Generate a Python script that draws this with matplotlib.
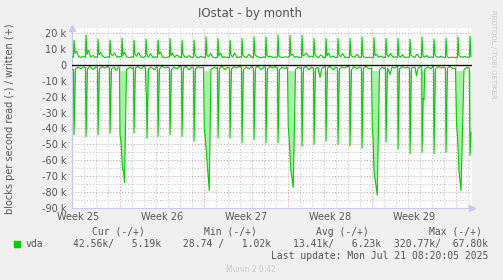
import matplotlib
matplotlib.use("Agg")
import matplotlib.pyplot as plt
import numpy as np

# ---------------- data (values in thousands of blocks/s) ----------------
# x in hours since the left edge of the graph
week_labels = ["Week 25", "Week 26", "Week 27", "Week 28", "Week 29"]
week_label_hours = [12, 180, 348, 516, 684]
week_start_hours = [95, 263, 431, 599, 767]
day_start_hours = [23 + 24 * i for i in range(34)]  # daily minor grid positions

y_ticks = [20, 10, 0, -10, -20, -30, -40, -50, -60, -70, -80, -90]
y_tick_labels = ["20 k", "10 k", "0", "-10 k", "-20 k", "-30 k", "-40 k",
                 "-50 k", "-60 k", "-70 k", "-80 k", "-90 k"]

# written (+)
write_hours = [0,
    3, 4, 6, 9, 13, 18, 23,
    27, 28, 30, 33, 37, 42, 47,
    51, 52, 54, 57, 61, 66, 71,
    75, 76, 78, 81, 85, 90, 95,
    99, 100, 102, 105, 109, 114, 119,
    123, 124, 126, 129, 133, 138, 143,
    147, 148, 150, 153, 157, 162, 167,
    171, 172, 174, 177, 181, 186, 191,
    195, 196, 198, 201, 205, 210, 215,
    219, 220, 222, 225, 229, 234, 239,
    243, 244, 246, 249, 253, 258, 263,
    267, 268, 270, 273, 277, 282, 287,
    291, 292, 294, 297, 301, 306, 311,
    315, 316, 318, 321, 325, 330, 335,
    339, 340, 342, 345, 349, 354, 359,
    363, 364, 366, 369, 373, 378, 383,
    387, 388, 390, 393, 397, 402, 407,
    411, 412, 414, 417, 421, 426, 431,
    435, 436, 438, 441, 445, 450, 455,
    459, 460, 462, 465, 469, 474, 479,
    483, 484, 486, 489, 493, 498, 503,
    507, 508, 510, 513, 517, 522, 527,
    531, 532, 534, 537, 541, 546, 551,
    555, 556, 558, 561, 565, 570, 575,
    579, 580, 582, 585, 589, 594, 599,
    603, 604, 606, 609, 613, 618, 623,
    627, 628, 630, 633, 637, 642, 647,
    651, 652, 654, 657, 661, 666, 671,
    675, 676, 678, 681, 685, 690, 695,
    699, 700, 702, 705, 709, 714, 719,
    723, 724, 726, 729, 733, 738, 743,
    747, 748, 750, 753, 757, 762, 767,
    771, 772, 774, 777, 781, 786, 791,
    795, 796, 798]
write_vals = [5.0,
    4.8, 15.5, 7.3, 8.4, 5.2, 4.6, 5.4,
    4.8, 18.5, 6.5, 9.0, 5.0, 5.8, 4.6,
    4.9, 16.0, 6.2, 7.8, 5.5, 4.5, 5.0,
    4.6, 15.5, 6.8, 5.6, 7.4, 4.8, 5.2,
    5.0, 16.5, 5.8, 8.0, 5.0, 4.5, 4.9,
    4.7, 15.5, 6.6, 5.3, 7.6, 5.0, 4.6,
    5.2, 16.0, 6.2, 4.8, 7.0, 4.5, 5.0,
    4.6, 15.5, 6.6, 8.0, 5.0, 4.4, 4.8,
    5.0, 16.5, 5.5, 7.4, 4.8, 6.2, 4.7,
    4.6, 15.5, 6.6, 5.0, 4.6, 5.8, 4.5,
    4.8, 15.5, 6.2, 5.0, 4.4, 5.4, 4.6,
    4.5, 17.5, 5.8, 5.2, 7.0, 4.8, 4.4,
    4.7, 16.5, 5.5, 7.4, 4.6, 5.0, 4.5,
    4.6, 15.5, 6.2, 4.8, 7.4, 4.5, 5.0,
    4.8, 16.5, 5.8, 5.0, 4.6, 6.6, 4.7,
    4.5, 17.5, 6.2, 5.4, 4.8, 4.4, 5.0,
    4.6, 17.5, 5.8, 5.0, 5.4, 4.6, 4.8,
    4.9, 18.5, 5.5, 4.8, 4.6, 5.0, 4.7,
    5.0, 18.5, 5.8, 6.6, 4.8, 5.2, 4.5,
    4.6, 18.5, 5.5, 6.2, 7.4, 4.8, 5.4,
    4.8, 16.5, 6.6, 5.0, 4.6, 6.2, 4.5,
    4.6, 16.5, 5.5, 7.4, 4.8, 5.4, 4.6,
    4.7, 16.5, 6.2, 5.0, 7.0, 4.6, 4.8,
    4.5, 16.5, 5.8, 5.2, 4.8, 6.6, 4.6,
    4.8, 17.5, 5.5, 4.6, 4.5, 4.8, 4.4,
    4.6, 17.0, 5.8, 6.6, 4.8, 5.4, 4.6,
    4.7, 16.5, 6.2, 5.0, 7.0, 4.8, 5.0,
    4.6, 16.5, 5.6, 4.8, 6.2, 4.5, 4.8,
    4.8, 16.0, 5.8, 5.4, 4.6, 6.6, 4.6,
    4.5, 17.5, 5.5, 4.8, 5.8, 4.6, 4.9,
    4.7, 16.0, 6.2, 5.0, 4.6, 5.4, 4.5,
    4.6, 16.5, 5.5, 4.4, 4.6, 4.8, 4.5,
    4.5, 17.5, 5.8, 5.0, 4.8, 5.2, 4.6,
    4.8, 18.0, 5.19]

# read (-)
read_hours = [0,
    3, 4, 7, 12, 18, 23,
    27, 28, 31, 36, 42, 47,
    51, 52, 55, 60, 66, 71,
    75, 76, 79, 84, 88, 93,
    95, 96, 98, 101, 103, 105, 109, 116, 121,
    123, 124, 127, 132, 138, 143,
    147, 148, 149, 150, 153, 158, 164, 169,
    171, 172, 175, 180, 186, 191,
    195, 196, 199, 204, 210, 215,
    219, 220, 223, 228, 234, 239,
    243, 244, 247, 252, 258, 262,
    263, 264.5, 266, 274.5, 278, 284, 289,
    291, 292, 295, 300, 306, 311,
    315, 316, 319, 324, 330, 335,
    339, 340, 343, 348, 354, 359,
    363, 364, 367, 372, 378, 383,
    387, 388, 391, 396, 402, 407,
    411, 412, 415, 420, 426, 430,
    431, 432.5, 434, 437.5, 442.5, 447, 452, 457,
    459, 460, 463, 468, 474, 479,
    483, 484, 487, 492, 496, 500, 506,
    507, 508, 511, 516, 522, 527,
    531, 532, 535, 540, 546, 551,
    555, 556, 559, 564, 570, 575,
    579, 580, 583, 588, 594,
    599, 600.5, 602, 604, 610.5, 615, 620, 625,
    627, 628, 631, 636, 640, 646, 651,
    651.5, 652, 655, 660, 666, 671,
    675, 676, 679, 686, 689, 692, 697,
    699.5, 700, 702.5, 704, 705.5, 712, 718, 722,
    723, 724, 727, 732, 738, 743,
    747, 748, 751, 756, 762,
    767, 769, 771, 774, 778, 784, 790,
    794.5, 796, 798]
read_vals = [-3.0,
    -3, -44, -2.5, -1.5, -2.5, -1.2,
    -2, -45, -2.5, -1, -3, -1.5,
    -1.5, -44, -2.5, -1.2, -2, -1,
    -2, -43, -2.5, -1.5, -3.5, -1.5,
    -2, -44, -48, -66, -67, -74, -3, -1.5, -2.5,
    -1.5, -43, -2, -1.2, -2.5, -1,
    -2, -17, -18, -46, -2.5, -1.5, -3, -1.2,
    -1.5, -45, -2.5, -1, -2, -1.5,
    -2, -44, -3, -1.5, -2.5, -1,
    -1.5, -45, -2, -1, -3, -1.5,
    -2, -48, -2.5, -1.2, -2, -1.5,
    -2, -40, -44, -79, -3, -1.5, -2.5,
    -1.5, -46, -2, -1, -3, -1.5,
    -2, -46, -2.5, -1.2, -2, -1,
    -1.5, -49, -3, -1.5, -2.5, -1.2,
    -2, -47, -2, -1, -3, -1.5,
    -1.5, -49, -2.5, -1.2, -2, -1,
    -2, -49, -3, -1.5, -2.5, -1.5,
    -2, -39, -45, -66, -77, -3, -1.5, -2.5,
    -1.5, -51, -2, -1, -3, -1.5,
    -2, -50, -2.5, -1.5, -8, -2, -1.2,
    -1.5, -48, -2, -1, -3, -1.5,
    -2, -50, -2.5, -1.5, -2, -1,
    -1.5, -51, -3, -1.2, -2.5, -1.5,
    -2, -52.5, -2, -1, -2.5,
    -2, -39, -45, -67, -82, -3, -1.5, -2.5,
    -1.5, -48.5, -2, -6, -1.5, -2, -1,
    -1.5, -53, -2.5, -1.2, -2, -1.5,
    -2, -56, -2, -1.5, -7, -2, -1.2,
    -1.5, -55, -21, -22, -2.5, -1.5, -2.5, -1,
    -1.5, -56, -2.5, -1.2, -2, -1.5,
    -2, -55, -2, -1, -2.5,
    -2, -37, -45, -67, -79, -3, -1.5,
    -2, -57, -42.56]

legend_name = "vda"
cur_text = "42.56k/   5.19k"
min_text = "28.74 /   1.02k"
avg_text = "13.41k/   6.23k"
max_text = "320.77k/  67.80k"

# ---------------- figure ----------------
W, H = 503, 280
fig = plt.figure(figsize=(W / 100, H / 100), dpi=100, facecolor="#f0f0f0")

L, R, T, B = 72, 472, 28, 208
ax = fig.add_axes([L / W, 1 - B / H, (R - L) / W, (B - T) / H])
ax.set_facecolor("white")
ax.set_xlim(0, 800)
ax.set_ylim(-90, 23.1)

green = "#00cc00"
text_col = "#555555"
minor_col = "#c8c8c8"
major_col = "#e8a0a0"

# grid
for yv in range(-85, 25, 5):
    col = major_col if yv % 10 == 0 else minor_col
    ax.axhline(yv, color=col, lw=0.7, linestyle=(0, (1, 2)), zorder=1)
for xv in day_start_hours:
    if xv not in week_start_hours:
        ax.axvline(xv, color=minor_col, lw=0.7, linestyle=(0, (1, 2)), zorder=1)
for xv in week_start_hours:
    ax.axvline(xv, color=major_col, lw=0.7, linestyle=(0, (1, 2)), zorder=1)

rh = np.array(read_hours, dtype=float)
rv = np.array(read_vals, dtype=float)
ax.fill_between(rh, rv, -4, where=rv < -4, interpolate=True,
                color="#aaeeaa", lw=0, zorder=2)
ax.plot(rh, rv, color=green, lw=0.8, zorder=3)
ax.plot(write_hours, write_vals, color=green, lw=0.8, zorder=3)
ax.axhline(0, color="black", lw=1.0, zorder=4)

# axes styling
for s in ["top", "right"]:
    ax.spines[s].set_visible(False)
for s in ["left", "bottom"]:
    ax.spines[s].set_color("#c8c8f0")
    ax.spines[s].set_linewidth(0.8)
ax.set_yticks(y_ticks)
ax.set_yticklabels(y_tick_labels)
ax.set_xticks(week_label_hours)
ax.set_xticklabels(week_labels)
ax.tick_params(axis="both", length=0, labelsize=7, colors=text_col)
ax.tick_params(axis="y", pad=4)
ax.tick_params(axis="x", pad=3)
for lab in ax.get_xticklabels() + ax.get_yticklabels():
    lab.set_color(text_col)

# axis arrows
ax.plot([1.0], [0.0], marker=">", color="#c8c8f0", markersize=4,
        transform=ax.transAxes, clip_on=False, zorder=5)
ax.plot([0.0], [1.0], marker="^", color="#c8c8f0", markersize=4,
        transform=ax.transAxes, clip_on=False, zorder=5)

# texts
def fx(px):
    return px / W

def fy(py):
    return 1 - py / H

fig.text(fx(250.5), fy(14), "IOstat - by month", ha="center", va="center",
         fontsize=8.5, color=text_col)
fig.text(fx(10), fy(119), "blocks per second read (-) / written (+)",
         rotation=90, ha="center", va="center", fontsize=7, color=text_col)
fig.text(fx(493), fy(54), "RRDTOOL / TOBI OETIKER", rotation=270,
         ha="center", va="center", fontsize=5, color="#c8c8c8")

mono = "DejaVu Sans Mono"
fs = 7
fig.text(fx(91.7), fy(232), "Cur (-/+)", family=mono, fontsize=fs, color=text_col, va="center")
fig.text(fx(204), fy(232), "Min (-/+)", family=mono, fontsize=fs, color=text_col, va="center")
fig.text(fx(316), fy(232), "Avg (-/+)", family=mono, fontsize=fs, color=text_col, va="center")
fig.text(fx(429), fy(232), "Max (-/+)", family=mono, fontsize=fs, color=text_col, va="center")

fig.patches.append(plt.Rectangle((fx(14), fy(247)), 6 / W, 6 / H,
                                 transform=fig.transFigure, color=green))
fig.text(fx(26), fy(244), legend_name, family=mono, fontsize=fs, color=text_col, va="center")
fig.text(fx(72.7), fy(244), cur_text, family=mono, fontsize=fs, color=text_col, va="center")
fig.text(fx(182.7), fy(244), min_text, family=mono, fontsize=fs, color=text_col, va="center")
fig.text(fx(292.7), fy(244), avg_text, family=mono, fontsize=fs, color=text_col, va="center")
fig.text(fx(488.5), fy(244), max_text, family=mono, fontsize=fs, color=text_col,
         va="center", ha="right")
fig.text(fx(488.5), fy(256), "Last update: Mon Jul 21 08:20:05 2025", family=mono,
         fontsize=fs, color=text_col, va="center", ha="right")
fig.text(fx(251), fy(269), "Munin 2.0.42", fontsize=5.5, color="#cccccc",
         ha="center", va="center")

fig.savefig("out.png", dpi=100, facecolor=fig.get_facecolor())
